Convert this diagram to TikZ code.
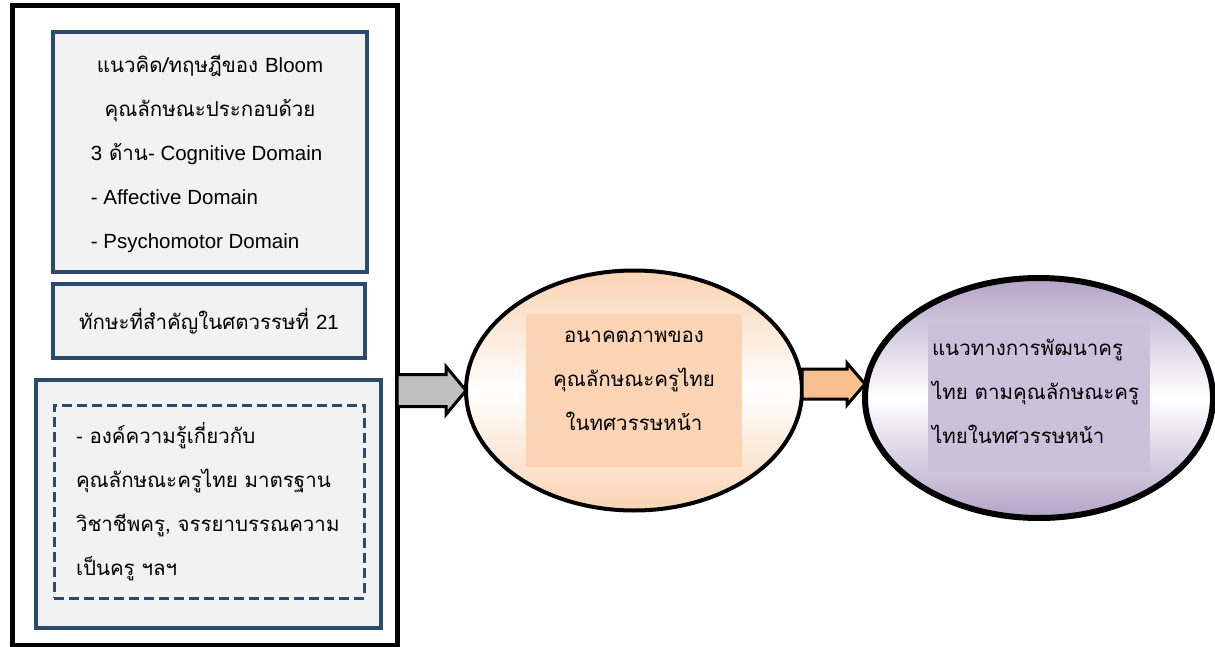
\documentclass[tikz,border=0pt]{standalone}
\usepackage{fontspec}
\setmainfont{Liberation Sans}
\newfontfamily\thaifont[Script=Thai]{Loma}
\usetikzlibrary{shapes.geometric,positioning,calc}
\definecolor{boxnavy}{HTML}{2C4A6E}
\definecolor{boxgray}{HTML}{F2F2F2}
\definecolor{arrowgray}{HTML}{BFBFBF}
\definecolor{arroworange}{HTML}{F9C08F}
\definecolor{peach}{HTML}{FAD3B2}
\definecolor{peachbox}{HTML}{FAD4B4}
\definecolor{lilac}{HTML}{B3A2C7}
\definecolor{lilacbox}{HTML}{CCC0DA}
\newcommand{\en}[1]{{\normalfont #1}}

\begin{document}
\begin{tikzpicture}[x=1pt,y=-1pt,
  every node/.style={outer sep=0pt,inner sep=0pt},
  txt/.style={font=\thaifont\fontsize{20.5}{44}\selectfont},
  bluebox/.style={draw=boxnavy,line width=3.5,fill=boxgray},
  dashbox/.style={draw=boxnavy,line width=3,dash pattern=on 10pt off 5pt},
  blockarrow/.style={draw=black,line width=3,line join=miter},
  bigoval/.style={ellipse,draw=black,line width=4}]
\useasboundingbox (0,0) rectangle (1215,647);
% left frame with the three boxes
\node[draw,line width=5,minimum width=385,minimum height=639] (frame) at (204.5,325.5) {};
\node[bluebox,minimum width=314,minimum height=240,txt] (bloom) at (210,152) {%
  \begin{tabular}{@{}l@{}}
  \multicolumn{1}{c}{แนวคิด/ทฤษฎีของ \en{Bloom}}\\
  \multicolumn{1}{c}{คุณลักษณะประกอบด้วย}\\
  \en{3} ด้าน\en{- Cognitive Domain}\\
  \en{- Affective Domain}\\
  \en{- Psychomotor Domain}
  \end{tabular}};
\node[bluebox,minimum width=312,minimum height=74,txt] (skills) at (209,321) {ทักษะที่สำคัญในศตวรรษที่ \en{21}};
\node[bluebox,minimum width=345,minimum height=248] (knowbox) at (208.5,504) {};
\node[dashbox,txt,minimum height=193,text width=266,inner xsep=22,align=left] (knowledge) at (209,501.5) {%
  \en{-} องค์ความรู้เกี่ยวกับ\\
  คุณลักษณะครูไทย มาตรฐาน\\
  วิชาชีพครู, จรรยาบรรณความ\\
  เป็นครู ฯลฯ};
% middle oval
\node[bigoval,minimum width=336,minimum height=240,top color=peach,bottom color=peach,middle color=white] (future) at (634,390.5) {};
\node[fill=peachbox,minimum width=216,minimum height=153] (futurebox) at (future.center) {};
\node[txt,align=center] (futuretext) at (634,381) {อนาคตภาพของ\\คุณลักษณะครูไทย\\ในทศวรรษหน้า};
% right oval
\node[bigoval,line width=6,minimum width=348,minimum height=240,top color=lilac,bottom color=lilac,middle color=white] (guide) at (1039,398) {};
\node[fill=lilacbox,minimum width=222,minimum height=149] (guidebox) at (1039,397.5) {};
\node[txt,align=left,anchor=west] (guidetext) at (932,391) {แนวทางการพัฒนาครู\\ไทย ตามคุณลักษณะครู\\ไทยในทศวรรษหน้า};
% block arrows
\coordinate (tailA) at (frame.east |- future.west);
\draw[blockarrow,fill=arrowgray] ($(tailA)+(0,-16)$) -- ($(future.west)+(-20,-16)$) -- ($(future.west)+(-20,-24)$)
  -- (future.west) -- ($(future.west)+(-20,24)$) -- ($(future.west)+(-20,16)$) -- ($(tailA)+(0,16)$) -- cycle;
\coordinate (tipB) at ($(guide.west)+(0,-14)$);
\coordinate (tailB) at (future.east |- tipB);
\draw[blockarrow,fill=arroworange] ($(tailB)+(0,-15)$) -- ($(tipB)+(-18,-15)$) -- ($(tipB)+(-18,-21)$)
  -- (tipB) -- ($(tipB)+(-18,21)$) -- ($(tipB)+(-18,15)$) -- ($(tailB)+(0,15)$) -- cycle;
\end{tikzpicture}
\end{document}
